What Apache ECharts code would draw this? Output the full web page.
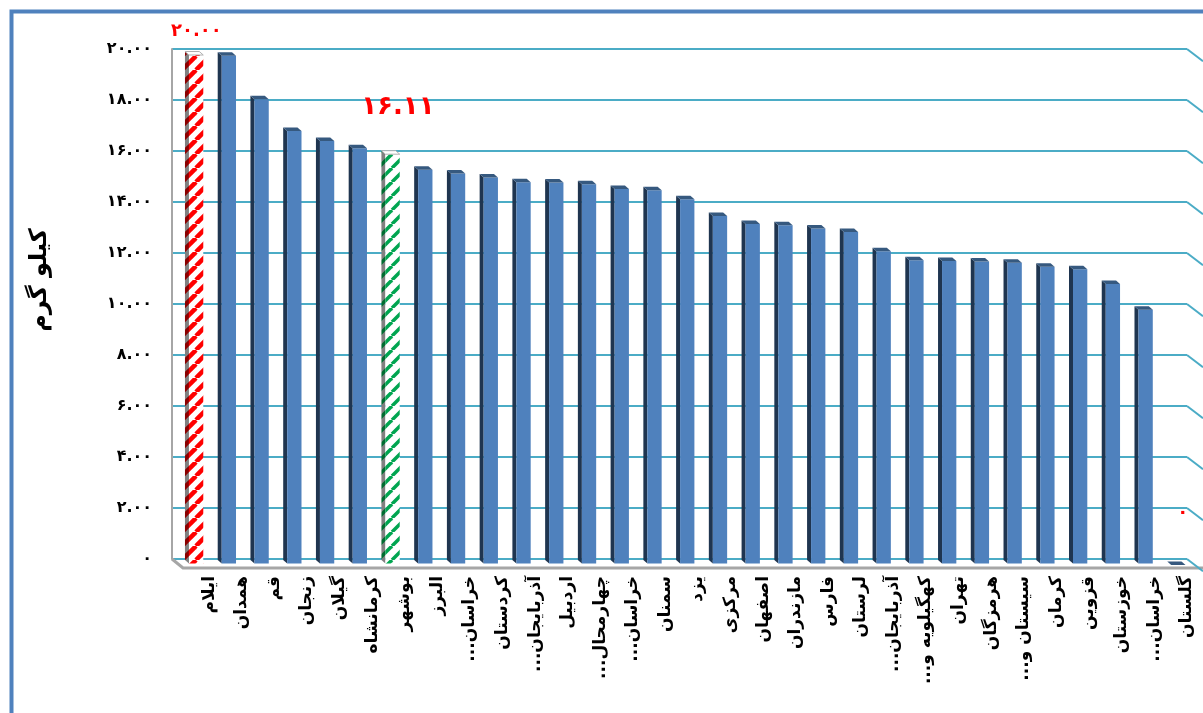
<!DOCTYPE html>
<html><head><meta charset="utf-8">
<script src="https://cdn.jsdelivr.net/npm/echarts@6/dist/echarts.min.js"></script>
<style>html,body{margin:0;padding:0;background:#fff}#c{width:1203px;height:713px}</style>
</head><body><div id="c"></div>
<script>
const RLM = '\u200F';
const categories = ['ایلام','همدان','قم','زنجان','گیلان','کرمانشاه','بوشهر','البرز','خراسان...','کردستان','آذربایجان...','اردبیل','چهارمحال...','خراسان...','سمنان','یزد','مرکزی','اصفهان','مازندران','فارس','لرستان','آذربایجان...','کهگیلویه و...','تهران','هرمزگان','سیستان و...','کرمان','قزوین','خوزستان','خراسان...','گلستان'];
const values = [20.00, 19.97, 18.26, 17.02, 16.63, 16.34, 16.11, 15.50, 15.35, 15.20, 15.01, 15.00, 14.93, 14.75, 14.70, 14.34, 13.69, 13.37, 13.32, 13.20, 13.06, 12.30, 11.95, 11.92, 11.90, 11.85, 11.70, 11.60, 11.02, 10.01, 0];
const barKinds = ['max','base','base','base','base','base','focus','base','base','base','base','base','base','base','base','base','base','base','base','base','base','base','base','base','base','base','base','base','base','base','none'];
const labeledIdx = [0, 6, 30];
const yTicks = [0, 2, 4, 6, 8, 10, 12, 14, 16, 18, 20];
const yAxisName = 'کیلو گرم';

const FA = '۰۱۲۳۴۵۶۷۸۹';
const toFa = s => String(s).replace(/[0-9]/g, d => FA[d]);
const fmt = v => v === 0 ? '۰' : toFa(v.toFixed(2));

function stripes(bg, fg, size, width) {
  const c = document.createElement('canvas'); c.width = c.height = size;
  const g = c.getContext('2d');
  g.fillStyle = bg; g.fillRect(0, 0, size, size);
  g.strokeStyle = fg; g.lineWidth = width;
  for (const o of [-size, 0, size]) { g.beginPath(); g.moveTo(o, size); g.lineTo(o + size, 0); g.stroke(); }
  return { image: c, repeat: 'repeat' };
}

const PAL = {
  base:  { front: '#4f81bd', side: '#1f3550', top: '#36597f', stroke: null },
  none:  { front: '#4f81bd', side: '#1f3550', top: '#36597f', stroke: null },
  max:   { front: stripes('#ffffff', '#ff0000', 14, 4.5), side: stripes('#808080', '#8b0000', 14, 4.5), top: '#ffffff', stroke: '#b0b0b0' },
  focus: { front: stripes('#ffffff', '#00a550', 14, 3.5), side: stripes('#808080', '#006b30', 14, 3.5), top: '#ffffff', stroke: '#b0b0b0' }
};
const LBL = {
  max:   { dx: 8,  dy: -24, font: 'bold 18px "DejaVu Sans"' },
  focus: { dx: 13, dy: -47, font: 'bold 26px "DejaVu Sans"' },
  none:  { dx: 12, dy: -52, font: 'bold 18px "DejaVu Sans"' },
  base:  { dx: 8,  dy: -20, font: 'bold 16px "DejaVu Sans"' }
};

function renderBar(params, api) {
  const i = params.dataIndex;
  const v = api.value(1);
  const top = api.coord([api.value(0), v]);
  const base = api.coord([api.value(0), 0]);
  const cx = top[0];
  const fl = cx + 0.6, fr = cx + 14.9;
  const ft = top[1] + 6, fb = base[1] + 4.5;
  const dx = -4, dy = -3.5;
  const kind = barKinds[i];
  const p = PAL[kind];
  const ch = [];
  if (fb - ft > 0.5) {
    ch.push({ type: 'polygon', shape: { points: [[fl, ft], [fl, fb], [fl + dx, fb + dy], [fl + dx, ft + dy]] }, style: { fill: p.side } });
    ch.push({ type: 'rect', shape: { x: fl, y: ft, width: fr - fl, height: fb - ft }, style: { fill: p.front } });
  }
  ch.push({ type: 'polygon', shape: { points: [[fl, ft], [fr, ft], [fr + dx, ft + dy], [fl + dx, ft + dy]] },
    style: p.stroke ? { fill: p.top, stroke: p.stroke, lineWidth: 1 } : { fill: p.top } });
  if (labeledIdx.includes(i)) {
    const L = LBL[kind];
    ch.push({ type: 'text', style: { text: fmt(v), x: cx + L.dx, y: ft + L.dy, fill: '#ff0000', font: L.font, align: 'center', verticalAlign: 'middle' } });
  }
  return { type: 'group', children: ch };
}

function renderGridEnd(params, api) {
  const p = api.coord([0, api.value(1)]);
  const right = params.coordSys.x + params.coordSys.width;
  return { type: 'line', shape: { x1: right, y1: p[1], x2: right + 16, y2: p[1] + 12.3 }, style: { stroke: '#4bacc6', lineWidth: 2 } };
}

const GL = 172, GR = 16, GT = 49, GB = 154;
const chart = echarts.init(document.getElementById('c'), null, { renderer: 'canvas' });
const floorY = 713 - GB;
chart.setOption({
  animation: false,
  backgroundColor: '#ffffff',
  grid: [
    { left: GL, right: GR, top: GT, bottom: GB },
    { left: GL + 21, right: GR - 21, top: GT, bottom: GB }
  ],
  xAxis: [
    { type: 'category', gridIndex: 0, data: categories, axisLine: { show: false }, axisTick: { show: false }, axisLabel: { show: false } },
    { type: 'category', gridIndex: 1, data: categories.map(c => c + RLM), axisLine: { show: false }, axisTick: { show: false },
      axisLabel: { interval: 0, rotate: 90, margin: 17, color: '#000', fontWeight: 'bold', fontSize: 17, fontFamily: 'DejaVu Sans' } }
  ],
  yAxis: [
    { type: 'value', gridIndex: 0, min: 0, max: 20, interval: 2,
      axisLine: { show: true, lineStyle: { color: '#a6a6a6', width: 2 } }, axisTick: { show: false },
      splitLine: { show: true, lineStyle: { color: '#4bacc6', width: 2 } },
      axisLabel: { formatter: fmt, margin: 20, color: '#000', fontWeight: 'bold', fontSize: 16, fontFamily: 'DejaVu Sans' },
      name: yAxisName, nameLocation: 'middle', nameGap: 120,
      nameTextStyle: { color: '#000', fontWeight: 'bold', fontSize: 24, fontFamily: 'DejaVu Sans', padding: [0, 0, 0, 48] } },
    { type: 'value', gridIndex: 1, min: 0, max: 20, show: false }
  ],
  graphic: [
    { type: 'rect', shape: { x: 11.5, y: 11.5, width: 1400, height: 900 }, style: { fill: 'none', stroke: '#4f81bd', lineWidth: 4 }, z: 100 },
    { type: 'polyline', shape: { points: [[GL, floorY], [GL + 11, floorY + 9], [1210, floorY + 9]] }, style: { stroke: '#a6a6a6', lineWidth: 3, fill: 'none' }, z: 1 }
  ],
  series: [
    { type: 'custom', xAxisIndex: 0, yAxisIndex: 0, renderItem: renderGridEnd, data: yTicks.map(t => [0, t]), silent: true, z: 1 },
    { type: 'custom', xAxisIndex: 0, yAxisIndex: 0, renderItem: renderBar, data: values.map((v, i) => [i, v]), z: 5 }
  ]
});
</script></body></html>
